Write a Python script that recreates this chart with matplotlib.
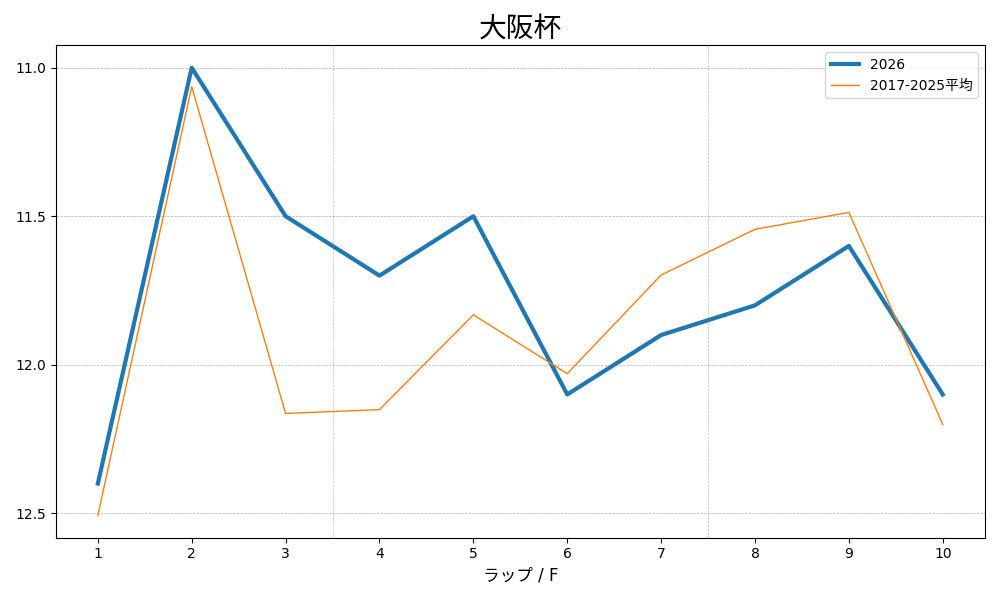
import matplotlib
matplotlib.use("Agg")
import matplotlib.pyplot as plt

plt.rcParams['font.family'] = ['DejaVu Sans', 'Noto Sans CJK JP']

laps = [1, 2, 3, 4, 5, 6, 7, 8, 9, 10]
y2026 = [12.4, 11.0, 11.5, 11.7, 11.5, 12.1, 11.9, 11.8, 11.6, 12.1]
avg = [12.507, 11.064, 12.164, 12.151, 11.832, 12.03, 11.698, 11.544, 11.487, 12.201]
sections = [3.5, 7.5]

fig, ax = plt.subplots(figsize=(10, 6), dpi=100)
ax.plot(laps, y2026, color="#1f77b4", lw=3, label="2026")
ax.plot(laps, avg, color="#ff7f0e", lw=1, label="2017-2025平均")
for s in sections:
    ax.axvline(s, color="gray", ls="--", lw=0.5, alpha=0.5)
ax.invert_yaxis()
ax.set_xticks(laps)
ax.set_yticks([11.0, 11.5, 12.0, 12.5])
ax.grid(axis="y", ls="--", lw=0.5)
ax.set_title("大阪杯", fontsize=20)
ax.set_xlabel("ラップ / F", fontsize=12)
ax.legend(loc="upper right")
fig.tight_layout()
fig.savefig("out.png")
